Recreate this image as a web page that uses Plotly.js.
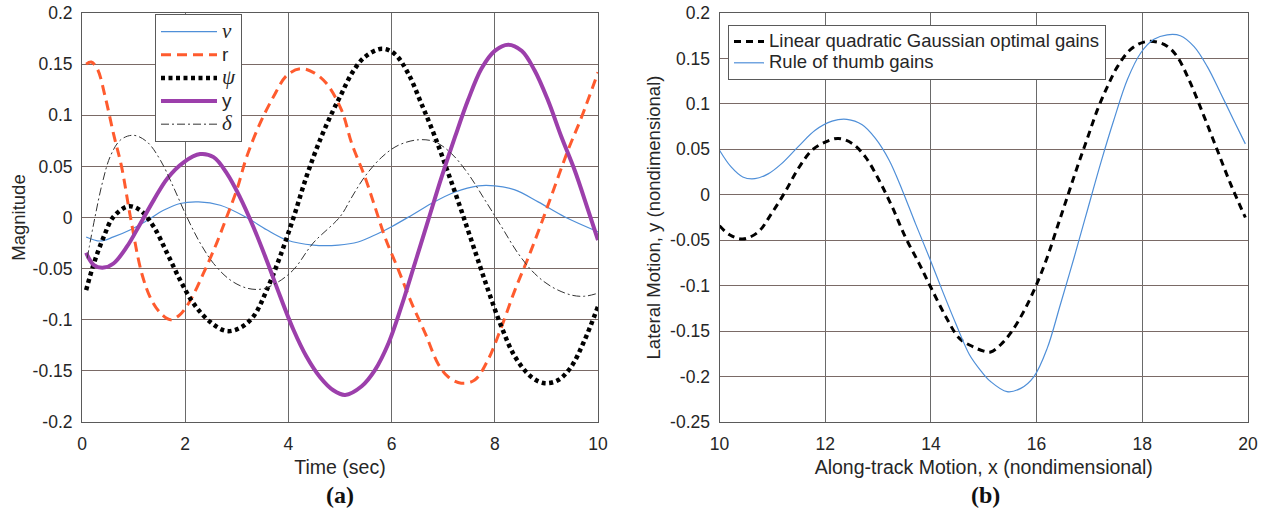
<!DOCTYPE html>
<html>
<head>
<meta charset="utf-8">
<script src="https://cdn.plot.ly/plotly-3.0.1.min.js"></script>
<style>html,body{margin:0;padding:0;background:#fff;}#chart{width:1273px;height:520px;}</style>
</head>
<body>
<div id="chart"></div>
<script>
// ---------- Panel (a) data: time responses ----------
const tNu = [0.08, 0.35, 0.61, 0.94, 1.26, 1.58, 1.9, 2.26, 2.68, 3.19, 3.58, 3.97, 4.48, 4.97, 5.35, 5.74, 6.0, 6.39, 6.77, 7.23, 7.68, 8.0, 8.39, 8.84, 9.35, 10];
const nu  = [-0.019, -0.023, -0.019, -0.012, -0.003, 0.007, 0.0137, 0.0153, 0.012, 0.0, -0.012, -0.022, -0.027, -0.027, -0.024, -0.0156, -0.009, 0.0023, 0.0137, 0.025, 0.031, 0.031, 0.027, 0.0153, 0.0007, -0.014];

const tR = [0.08, 0.18, 0.3, 0.45, 0.61, 0.77, 0.94, 1.16, 1.35, 1.55, 1.71, 1.9, 2.1, 2.35, 2.61, 2.8, 3.0, 3.19, 3.45, 3.71, 3.97, 4.23, 4.48, 4.74, 5.03, 5.23, 5.48, 5.68, 5.87, 6.13, 6.39, 6.65, 6.9, 7.1, 7.35, 7.61, 7.87, 8.13, 8.39, 8.65, 8.9, 9.16, 9.42, 9.68, 10];
const r  = [0.15, 0.152, 0.145, 0.118, 0.082, 0.049, 0.0, -0.055, -0.081, -0.095, -0.1, -0.095, -0.081, -0.055, -0.025, 0.0, 0.027, 0.059, 0.092, 0.118, 0.139, 0.1455, 0.142, 0.131, 0.105, 0.072, 0.04, 0.01, -0.019, -0.051, -0.084, -0.113, -0.143, -0.156, -0.162, -0.159, -0.139, -0.107, -0.071, -0.039, -0.006, 0.03, 0.066, 0.098, 0.142];

const tPsi = [0.08, 0.23, 0.42, 0.61, 0.9, 1.13, 1.39, 1.65, 1.9, 2.16, 2.48, 2.8, 3.06, 3.32, 3.58, 3.84, 4.1, 4.35, 4.61, 4.87, 5.0, 5.23, 5.48, 5.81, 6.06, 6.32, 6.58, 6.84, 7.1, 7.35, 7.61, 7.87, 8.13, 8.39, 8.71, 8.97, 9.23, 9.48, 9.74, 10];
const psi  = [-0.071, -0.045, -0.019, 0.0007, 0.011, 0.007, -0.009, -0.035, -0.061, -0.084, -0.102, -0.111, -0.108, -0.097, -0.071, -0.038, 0.0, 0.04, 0.0755, 0.105, 0.118, 0.141, 0.157, 0.165, 0.16, 0.141, 0.111, 0.079, 0.043, 0.007, -0.032, -0.071, -0.107, -0.136, -0.156, -0.162, -0.159, -0.146, -0.12, -0.087];

const tY = [0.08, 0.23, 0.42, 0.61, 0.87, 1.13, 1.39, 1.65, 1.97, 2.29, 2.55, 2.81, 3.06, 3.32, 3.58, 3.84, 4.1, 4.35, 4.61, 4.87, 5.1, 5.42, 5.68, 5.94, 6.19, 6.45, 6.71, 6.97, 7.23, 7.48, 7.74, 8.0, 8.26, 8.52, 8.77, 9.03, 9.29, 9.55, 9.81, 10];
const yLat = [-0.0345, -0.0465, -0.049, -0.045, -0.0286, -0.006, 0.017, 0.038, 0.054, 0.062, 0.059, 0.043, 0.02, -0.009, -0.042, -0.077, -0.11, -0.136, -0.156, -0.169, -0.1735, -0.165, -0.149, -0.123, -0.087, -0.045, -0.0026, 0.0397, 0.079, 0.1146, 0.1455, 0.163, 0.169, 0.163, 0.144, 0.1146, 0.079, 0.046, 0.007, -0.022];

const tDelta = [0.1, 0.25, 0.4, 0.55, 0.75, 1.0, 1.26, 1.52, 1.77, 2.03, 2.29, 2.55, 2.87, 3.19, 3.48, 3.77, 4.1, 4.48, 5.0, 5.23, 5.48, 5.81, 6.13, 6.52, 6.84, 7.16, 7.48, 7.81, 8.13, 8.45, 8.77, 9.1, 9.48, 9.74, 10];
const delta  = [-0.04, 0.0, 0.035, 0.06, 0.076, 0.0804, 0.074, 0.056, 0.03, 0.0007, -0.025, -0.045, -0.061, -0.069, -0.07, -0.064, -0.051, -0.025, 0.0007, 0.02, 0.04, 0.059, 0.0706, 0.076, 0.074, 0.0625, 0.043, 0.017, -0.009, -0.035, -0.0547, -0.0677, -0.0758, -0.077, -0.074];

// ---------- Panel (b) data: trajectories ----------
const xLqg = [10, 10.19, 10.44, 10.73, 10.98, 11.24, 11.49, 11.75, 12.0, 12.25, 12.51, 12.76, 13.02, 13.27, 13.52, 13.78, 14.0, 14.29, 14.54, 14.79, 15.0, 15.13, 15.32, 15.51, 15.76, 16.0, 16.2, 16.39, 16.58, 16.77, 16.96, 17.15, 17.34, 17.53, 17.78, 18.03, 18.28, 18.47, 18.66, 18.91, 19.17, 19.42, 19.67, 19.95];
const yLqg = [-0.034, -0.044, -0.0487, -0.041, -0.021, 0.003, 0.0288, 0.049, 0.058, 0.062, 0.0565, 0.0417, 0.0159, -0.0137, -0.047, -0.076, -0.102, -0.135, -0.158, -0.167, -0.172, -0.173, -0.165, -0.152, -0.128, -0.0985, -0.069, -0.0358, -0.0026, 0.0306, 0.062, 0.0934, 0.119, 0.141, 0.16, 0.168, 0.168, 0.1635, 0.152, 0.123, 0.086, 0.049, 0.012, -0.025];

const xRule = [10, 10.22, 10.44, 10.67, 10.92, 11.17, 11.49, 11.81, 12.13, 12.41, 12.7, 12.95, 13.21, 13.46, 13.71, 13.97, 14.22, 14.48, 14.73, 14.95, 15.13, 15.44, 15.7, 15.95, 16.2, 16.45, 16.71, 16.96, 17.21, 17.46, 17.72, 17.97, 18.22, 18.47, 18.72, 18.98, 19.23, 19.48, 19.73, 19.95];
const yRule = [0.049, 0.0306, 0.0196, 0.0177, 0.023, 0.034, 0.053, 0.071, 0.081, 0.083, 0.077, 0.062, 0.038, 0.0048, -0.032, -0.069, -0.106, -0.143, -0.176, -0.194, -0.2055, -0.2166, -0.213, -0.2, -0.169, -0.1207, -0.069, -0.0173, 0.0343, 0.082, 0.127, 0.156, 0.171, 0.176, 0.175, 0.163, 0.141, 0.112, 0.082, 0.056];

// ---------- Tick labels ----------
const xTicksA = [0, 2, 4, 6, 8, 10];
const xLabelsA = ['0', '2', '4', '6', '8', '10'];
const yTicksA = [-0.2, -0.15, -0.1, -0.05, 0, 0.05, 0.1, 0.15, 0.2];
const yLabelsA = ['-0.2', '-0.15', '-0.1', '-0.05', '0', '0.05', '0.1', '0.15', '0.2'];
const xTicksB = [10, 12, 14, 16, 18, 20];
const xLabelsB = ['10', '12', '14', '16', '18', '20'];
const yTicksB = [-0.25, -0.2, -0.15, -0.1, -0.05, 0, 0.05, 0.1, 0.15, 0.2];
const yLabelsB = ['-0.25', '-0.2', '-0.15', '-0.1', '-0.05', '0', '0.05', '0.1', '0.15', '0.2'];

// ---------- Names ----------
const namesA = ['ν', 'r', 'ψ', 'y', 'δ'];
const namesB = ['Linear quadratic Gaussian optimal gains', 'Rule of thumb gains'];
const sym = s => '<span style="font-family:Liberation Serif;font-style:italic;font-size:21px">' + s + '</span>';
const big = s => '<span style="font-size:19px">' + s + '</span>';
const legA = [sym(namesA[0]), big(namesA[1]), sym(namesA[2]), big(namesA[3]), sym(namesA[4])];
const legB = namesB.map(s => '<span style="font-size:18.5px">' + s + '</span>');

const BLUE = '#4f8fd8', ORANGE = '#ff5b2e', PURPLE = '#9c3fab';

const traces = [
  {x: tNu, y: nu, name: legA[0], mode: 'lines', line: {color: BLUE, width: 1.2, shape: 'spline'}, xaxis: 'x', yaxis: 'y', legend: 'legend'},
  {x: tR, y: r, name: legA[1], mode: 'lines', line: {color: ORANGE, width: 3, dash: '10px,6px', shape: 'spline'}, xaxis: 'x', yaxis: 'y', legend: 'legend'},
  {x: tPsi, y: psi, name: legA[2], mode: 'lines', line: {color: '#000', width: 4.5, dash: '4px,3.5px', shape: 'spline'}, xaxis: 'x', yaxis: 'y', legend: 'legend'},
  {x: tY, y: yLat, name: legA[3], mode: 'lines', line: {color: PURPLE, width: 4, shape: 'spline'}, xaxis: 'x', yaxis: 'y', legend: 'legend'},
  {x: tDelta, y: delta, name: legA[4], mode: 'lines', line: {color: '#333', width: 1, dash: '8px,3px,2px,3px', shape: 'spline'}, xaxis: 'x', yaxis: 'y', legend: 'legend'},
  {x: xLqg, y: yLqg, name: legB[0], mode: 'lines', line: {color: '#000', width: 3, dash: '7px,5px', shape: 'spline'}, xaxis: 'x2', yaxis: 'y2', legend: 'legend2'},
  {x: xRule, y: yRule, name: legB[1], mode: 'lines', line: {color: BLUE, width: 1.2, shape: 'spline'}, xaxis: 'x2', yaxis: 'y2', legend: 'legend2'}
];

const W = 1273, H = 520;
const M = {l: 82, r: 25, t: 13, b: 98};
const PW = W - M.l - M.r, PH = H - M.t - M.b;
const px = v => (v - M.l) / PW;        // pixel x -> paper fraction
const py = v => (H - M.b - v) / PH;    // pixel y -> paper fraction

const FONT = 'Liberation Sans, Arial, sans-serif';
const TXT = '#262626';
const axisCommon = {
  showline: true, mirror: true, linecolor: '#5a5a5a', linewidth: 1,
  showgrid: true, gridwidth: 1.1, zeroline: false, ticks: '',
  tickfont: {family: FONT, size: 17.5, color: TXT}, fixedrange: true
};

const layout = {
  width: W, height: H,
  margin: M,
  paper_bgcolor: '#fff', plot_bgcolor: '#fff',
  font: {family: FONT, color: TXT},
  showlegend: true,
  xaxis: Object.assign({}, axisCommon, {
    domain: [px(82), px(598)], range: [0, 10], anchor: 'y',
    tickmode: 'array', tickvals: xTicksA, ticktext: xLabelsA, gridcolor: '#6a6a6a',
    ticklabelstandoff: 6,
    title: {text: 'Time (sec)', font: {family: FONT, size: 19.5, color: TXT}, standoff: 7}
  }),
  yaxis: Object.assign({}, axisCommon, {
    domain: [0, 1], range: [-0.2, 0.2], anchor: 'x',
    tickmode: 'array', tickvals: yTicksA, ticktext: yLabelsA, gridcolor: '#7a6a66',
    ticklabelstandoff: 5,
    title: {text: 'Magnitude', font: {family: FONT, size: 18.5, color: TXT}, standoff: 2}
  }),
  xaxis2: Object.assign({}, axisCommon, {
    domain: [px(719.5), px(1248)], range: [10, 20], anchor: 'y2',
    tickmode: 'array', tickvals: xTicksB, ticktext: xLabelsB, gridcolor: '#6a6a6a',
    ticklabelstandoff: 6,
    title: {text: 'Along-track Motion, x (nondimensional)', font: {family: FONT, size: 19.5, color: TXT}, standoff: 7}
  }),
  yaxis2: Object.assign({}, axisCommon, {
    domain: [0, 1], range: [-0.25, 0.2], anchor: 'x2',
    tickmode: 'array', tickvals: yTicksB, ticktext: yLabelsB, gridcolor: '#7a6a66',
    ticklabelstandoff: 5,
    title: {text: 'Lateral Motion, y (nondimensional)', font: {family: FONT, size: 18.5, color: TXT}, standoff: 4}
  }),
  legend: {
    x: px(155), y: py(14), xref: 'paper', yref: 'paper', xanchor: 'left', yanchor: 'top',
    bgcolor: '#fff', bordercolor: '#5a5a5a', borderwidth: 1,
    font: {family: FONT, size: 15.5, color: TXT}, itemwidth: 56, tracegroupgap: 0
  },
  legend2: {
    x: px(728), y: py(25), xref: 'paper', yref: 'paper', xanchor: 'left', yanchor: 'top',
    bgcolor: '#fff', bordercolor: '#5a5a5a', borderwidth: 1,
    font: {family: FONT, size: 14, color: TXT}, itemwidth: 30, tracegroupgap: 0
  },
  annotations: [
    {text: '<b>(a)</b>', x: px(340), y: py(495), xref: 'paper', yref: 'paper', xanchor: 'center', yanchor: 'middle', showarrow: false,
     font: {family: 'Liberation Serif, serif', size: 24, color: '#111'}},
    {text: '<b>(b)</b>', x: px(985), y: py(495), xref: 'paper', yref: 'paper', xanchor: 'center', yanchor: 'middle', showarrow: false,
     font: {family: 'Liberation Serif, serif', size: 24, color: '#111'}}
  ]
};

Plotly.newPlot('chart', traces, layout, {displayModeBar: false, staticPlot: true});
</script>
</body>
</html>
